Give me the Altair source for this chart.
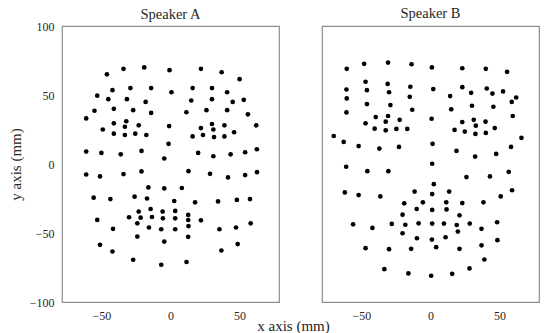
import altair as alt
import pandas as pd

titles = ["Speaker A", "Speaker B"]

# Speaker A coordinates (mm)
xa = [-46, -34, -19, -42, -29, -14, -53, -45, -31.5, -18, -55, -41, -27, -14, -61, -41, -32, -33, -23, -49,
      -41, -33, -25.5, -17.5, -61, -50, -36, -21, -4.5,
      -0.7, 22, 37, 50, 0.7, 16, 30, 41, 15, 30, 45, 53, 11.5, 26, 41, 56, -1, 22, 30, 31, 39, 62, 16, 23.5,
      31.5, 39, 46, -1.4, 20, 31, 43.5, 54, 62.5,
      -61, -51, -34, -21, -16, -4.5, -55.6, -43.5, -26, -17, -53, -41.6, -23, -14.4, -5.7, -30, -21.6, -13.4,
      -5.5, -24, -15.6, -6.7, -24, -4.5, -51, -42, -27, -6.7,
      13, 28.6, 41.6, 54, 62.6, 8.2, 2.7, 17.8, 34.4, 48, 57.5, 3.4, 3.4, 12.8, 12.8, 22, 13, 3.4, 35.4, 47.4,
      58, 12.8, 48.6, 36.8, 11.6]
ya = [65, 69, 70, 53.5, 55, 55, 49.5, 47, 47, 45, 38.6, 40, 39, 37, 33, 29.5, 31, 27, 28, 25,
      22, 21, 22, 21, 9, 8, 7, 9.5, 4,
      68, 69, 66.5, 61.5, 52, 55, 55, 52, 46, 47, 45, 46.5, 37.5, 39, 39, 36, 27.5, 26, 29, 25, 28, 28, 20, 21,
      19.5, 20, 23, 14.6, 8, 5.6, 7, 8.5, 10.7,
      -7.6, -9, -7.3, -5.4, -17, -17.7, -24.4, -25.4, -23.7, -25, -40.5, -47, -34.5, -32.6, -34.5, -38.6, -38.9,
      -38.4, -39.4, -43, -46, -47.3, -52.6, -56.2, -58.6, -63.4, -69.4, -73,
      -5.2, -7.1, -9.7, -8, -5.9, -17.4, -26.8, -27.8, -27.1, -26, -25.4, -34, -39.4, -36.9, -40.6, -40.8, -45,
      -47.3, -47.3, -46, -43, -52.8, -58, -62.7, -71]

# Speaker B coordinates (mm)
xb = [-60.6, -48, -30.7, -13.7, -60.8, -47, -46, -31, -30, -14.6, -60.6, -15, -46, -29, -60.8, -13.2, -39.6,
      -30.7, -32.4, -22.3, -47, -40.4, -32.4, -24.7, -16.8, -70, -62.8, -52, -37, -22.8,
      1, 23, 40, 55.4, 2, 23, 29.4, 40.7, 44.8, 52.5, 14.2, 62, 58.8, 15, 30, 45.5, 0.8, 59.5, 23, 31.3, 32.8,
      39.8, 17.4, 24.8, 32.5, 40, 46.5, 65.8, 1.5, 18.8, 32.3, 47.5, 58.3, 1.2,
      -61, -45.7, -30.5, -62, -52, -36.3, -11.5, -19, -5.5, -10, -20.2, -56, -42, -28, -18.2, -8.6, -20.2, -9.8,
      -47, -30, -14, -33.4, -16,
      26, 43, 56.6, 2.4, 1.2, 13.5, 50.8, 59, 11.4, 23, 38.3, 1.2, 11.6, 21, 1.2, 9.7, 19, 28.4, 19.8, 36.9,
      48.2, 1, 10.9, 4.1, 21, 36.9, 48.4, 39, 0.5, 15.7, 28.2]
yb = [69, 72.6, 73.5, 72.3, 54, 59.6, 53.5, 58, 52, 56, 47.5, 48.7, 43.4, 42.7, 37.4, 39.3, 34, 34.8, 30.7, 32,
      29.5, 25.6, 24.4, 25.4, 25.4, 20.3, 16, 13, 11.2, 12.4,
      70, 69.4, 69, 66.8, 54.3, 55.7, 51.6, 54.7, 51, 52.6, 49.2, 48.2, 45, 39.6, 42.2, 41.5, 32.8, 34.8, 30.4,
      32, 27.8, 30.7, 24.7, 23.5, 21.8, 22.5, 26, 19, 14.6, 9.5, 5.4, 7.3, 12.4, 0.2,
      -2, -5.2, -5.2, -20.6, -22.5, -23.5, -20, -28.5, -27.8, -32.6, -36.7, -43.7, -46.3, -43.4, -44, -43,
      -50.2, -53.8, -61, -61.7, -61.5, -76.2, -79.3,
      -9.5, -9, -5.7, -14.6, -21.8, -20, -23.5, -19, -27.8, -28.3, -27.8, -33.3, -32.9, -37.2, -43.2, -43.2,
      -44.2, -43.2, -49, -47, -42.2, -54.8, -53.1, -60.3, -61.5, -58.9, -55.2, -69.2, -81, -79.6, -75.7]

x_ticks = [-50, 0, 50]
y_ticks = [-100, -50, 0, 50, 100]
x_domain = [-78.5, 78.5]
y_domain = [-100, 100]

FONT = "Liberation Serif"
TXT = "#262626"
W, H = 217, 276

df_a = pd.DataFrame({"x": xa, "y": ya})
df_b = pd.DataFrame({"x": xb, "y": yb})


def x_axis(with_title):
    kw = dict(values=x_ticks, grid=False, domain=False, ticks=False, tickSize=0,
              labelPadding=8, labelFont=FONT, labelFontSize=12, labelColor=TXT)
    if with_title:
        kw.update(title="x axis (mm)", titleFont=FONT, titleFontSize=15, titleFontWeight="normal",
                  titleColor=TXT, titleX=231, titleY=28, titleAlign="center", titleBaseline="alphabetic")
    else:
        kw.update(title=None)
    return alt.Axis(**kw)


y_axis_a = alt.Axis(values=y_ticks, grid=False, domain=False, ticks=False, tickSize=0,
                    labelPadding=8, labelFont=FONT, labelFontSize=12, labelColor=TXT,
                    title="y axis (mm)", titleFont=FONT, titleFontSize=15, titleFontWeight="normal",
                    titleColor=TXT, titleX=-47, titleY=138, titleAngle=270, titleAlign="center",
                    titleBaseline="middle")


def panel(df, title, x_ax, y_ax, title_offset):
    y_enc = alt.Y("y:Q", scale=alt.Scale(domain=y_domain, nice=False, zero=False))
    if y_ax is None:
        y_enc = y_enc.axis(None)
    else:
        y_enc = y_enc.axis(y_ax)
    return alt.Chart(df).mark_circle(size=22, color="black", opacity=1).encode(
        x=alt.X("x:Q", scale=alt.Scale(domain=x_domain, nice=False, zero=False), axis=x_ax),
        y=y_enc,
    ).properties(width=W, height=H,
                 title=alt.TitleParams(title, frame="group", offset=title_offset))


a = panel(df_a, titles[0], x_axis(True), y_axis_a, -2)
b = panel(df_b, titles[1], x_axis(False), None, 5)

chart = alt.hconcat(a, b, spacing=43, bounds="flush").configure_view(
    stroke="#8c8c8c", strokeWidth=1.2
).configure_title(
    font=FONT, fontSize=14.5, fontWeight="normal", color=TXT, anchor="middle"
).properties(
    padding={"left": 7, "top": 4, "right": 5, "bottom": 0}, background="white"
)

chart.save("out.html", embed_options={"renderer": "svg", "actions": False})
